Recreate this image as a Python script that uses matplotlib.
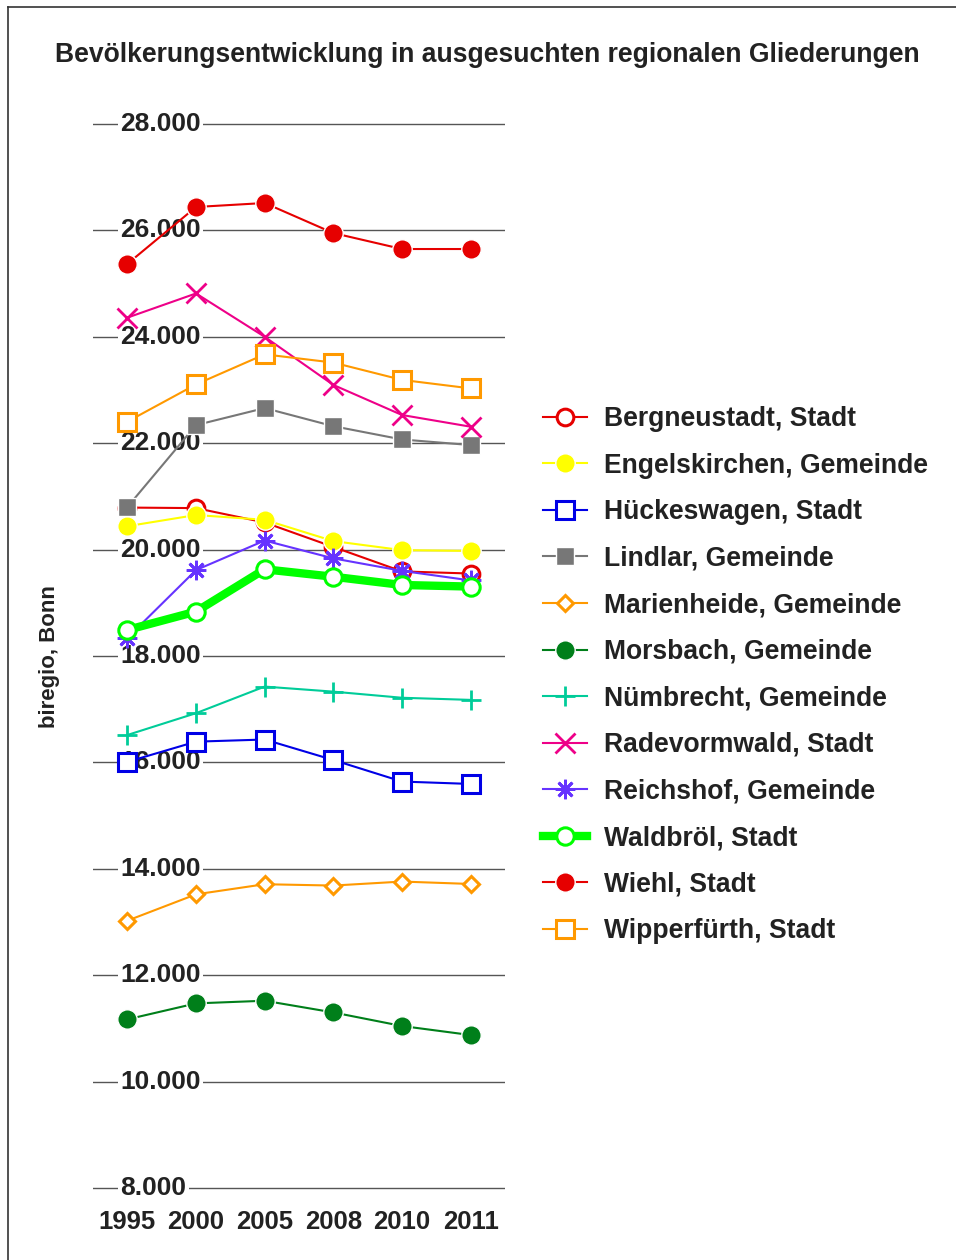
import matplotlib
matplotlib.use("Agg")
import matplotlib.pyplot as plt
from matplotlib.lines import Line2D

plt.rcParams['font.family'] = ['Liberation Sans', 'DejaVu Sans']
plt.rcParams['font.weight'] = 'bold'

years = ["1995", "2000", "2005", "2008", "2010", "2011"]
y_ticks = [8000, 10000, 12000, 14000, 16000, 18000, 20000, 22000, 24000, 26000, 28000]

names = ["Bergneustadt, Stadt", "Engelskirchen, Gemeinde", "Hückeswagen, Stadt",
         "Lindlar, Gemeinde", "Marienheide, Gemeinde", "Morsbach, Gemeinde",
         "Nümbrecht, Gemeinde", "Radevormwald, Stadt", "Reichshof, Gemeinde",
         "Waldbröl, Stadt", "Wiehl, Stadt", "Wipperfürth, Stadt"]

bergneustadt = [20790, 20780, 20510, 20050, 19590, 19550]
engelskirchen = [20440, 20650, 20560, 20160, 19990, 19975]
hueckeswagen = [16010, 16390, 16430, 16045, 15640, 15595]
lindlar = [20800, 22340, 22660, 22320, 22070, 21965]
marienheide = [13025, 13520, 13710, 13685, 13760, 13715]
morsbach = [11170, 11470, 11520, 11300, 11045, 10875]
nuembrecht = [16515, 16925, 17425, 17330, 17215, 17175]
radevormwald = [24360, 24815, 24000, 23095, 22530, 22310]
reichshof = [18340, 19615, 20170, 19835, 19600, 19420]
waldbroel = [18490, 18835, 19630, 19490, 19335, 19305]
wiehl = [25370, 26440, 26515, 25950, 25650, 25650]
wipperfuerth = [22405, 23105, 23670, 23515, 23190, 23030]

series = [bergneustadt, engelskirchen, hueckeswagen, lindlar, marienheide, morsbach,
          nuembrecht, radevormwald, reichshof, waldbroel, wiehl, wipperfuerth]

# color, marker, markersize, filled, linewidth
styles = [
    ("#e60000", "o", 12, False, 1.5),
    ("#ffff00", "o", 14, True, 1.5),
    ("#0000e6", "s", 12.5, False, 1.5),
    ("#777777", "s", 13, True, 1.5),
    ("#ff9900", "D", 8.5, False, 1.5),
    ("#007f1a", "o", 14, True, 1.5),
    ("#00cc99", "+", 14, True, 1.5),
    ("#ee0088", "x", 14, True, 1.5),
    ("#6633ff", (8, 2, 0), 14, True, 1.5),
    ("#00ff00", "o", 12.5, False, 6),
    ("#e60000", "o", 14, True, 1.5),
    ("#ff9900", "s", 12.5, False, 1.5),
]

W, H = 956, 1260
fig = plt.figure(figsize=(W / 100, H / 100), dpi=100)

ymin, ymax = 7800, 28200
px_per = 1064 / 20000
top_px = 124 - (ymax - 28000) * px_per
bot_px = 1188 + (8000 - ymin) * px_per
ax = fig.add_axes([93 / W, (H - bot_px) / H, 412 / W, (bot_px - top_px) / H])
ax.set_xlim(-0.5, 5.5)
ax.set_ylim(ymin, ymax)
for s in ax.spines.values():
    s.set_visible(False)
ax.set_xticks(range(len(years)))
ax.set_xticklabels(years, fontsize=18.5, fontweight='bold', color='#222222')
ax.tick_params(axis='x', length=0, pad=8)
ax.set_yticks([])

for t in y_ticks:
    ax.axhline(t, color='#555555', lw=1, zorder=1)
    ax.text(-0.1, t, f"{t // 1000}.000", ha='left', va='center', fontsize=19,
            fontweight='bold', color='#222222', zorder=1.5,
            bbox=dict(facecolor='white', edgecolor='none', pad=1.5))

x = list(range(len(years)))
handles = []
for name, vals, (c, m, ms, filled, lw) in zip(names, series, styles):
    if m in ("+", "x") or isinstance(m, tuple):
        kw = dict(markeredgecolor=c, markeredgewidth=2)
    elif filled:
        kw = dict(markerfacecolor=c, markeredgecolor='white', markeredgewidth=1)
    else:
        kw = dict(markerfacecolor='white', markeredgecolor=c, markeredgewidth=2.2)
    line, = ax.plot(x, vals, color=c, lw=lw, marker=m, markersize=ms, label=name,
                    zorder=3, **kw)
    handles.append(line)

leg = fig.legend(handles=handles, loc='upper left', bbox_to_anchor=(543 / W, 1 - 406 / H),
                 frameon=False, fontsize=19.1, handlelength=1.65, handletextpad=0.65,
                 labelspacing=0.775, borderpad=0, borderaxespad=0)
for t in leg.get_texts():
    t.set_color('#222222')
    t.set_fontweight('bold')

fig.text(487 / W, 1 - 55 / H, "Bevölkerungsentwicklung in ausgesuchten regionalen Gliederungen",
         ha='center', va='center', fontsize=19.1, fontweight='bold', color='#222222')
fig.text(49 / W, 1 - 657 / H, "biregio, Bonn", rotation=90, ha='center', va='center',
         fontsize=16, fontweight='bold', color='#222222')

fig.add_artist(Line2D([8 / W, 8 / W], [0, 1 - 7 / H], transform=fig.transFigure,
                      color='#333333', lw=1.2))
fig.add_artist(Line2D([8 / W, 1], [1 - 7 / H, 1 - 7 / H], transform=fig.transFigure,
                      color='#333333', lw=1.2))

fig.savefig("out.png", dpi=100)
